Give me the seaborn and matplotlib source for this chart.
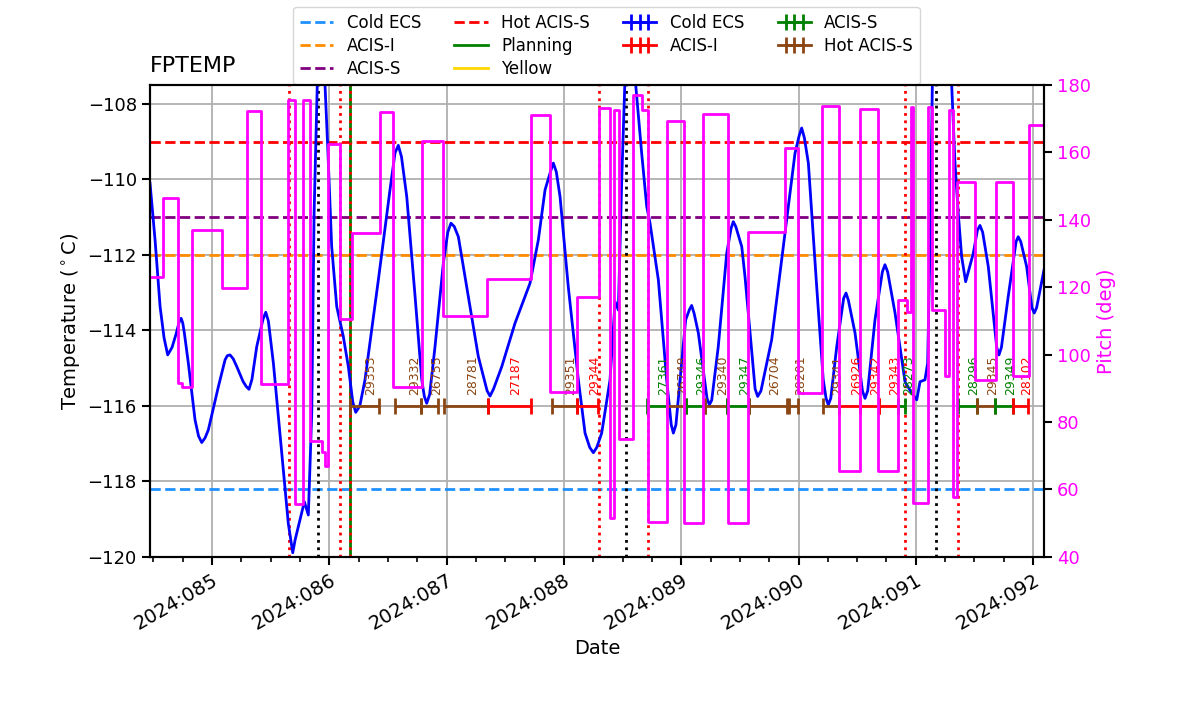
import numpy as np
import pandas as pd
import matplotlib
matplotlib.use("Agg")
import matplotlib.pyplot as plt
import matplotlib.dates as mdates
import seaborn as sns

# ---- data (times are 2024 day-of-year) -------------------------------------
temp_doy = [84.471, 84.514, 84.557, 84.591, 84.622, 84.659, 84.693, 84.722, 84.736, 84.750,
            84.764, 84.798, 84.855, 84.885, 84.912, 84.940, 84.968, 85.054, 85.111, 85.130,
            85.153, 85.180, 85.211, 85.264, 85.290, 85.315, 85.340, 85.381, 85.435, 85.458,
            85.480, 85.523, 85.594, 85.650, 85.688, 85.708, 85.787, 85.821, 85.850, 85.870,
            85.921, 85.963, 85.986, 86.020, 86.063, 86.119, 86.162, 86.200, 86.225, 86.260,
            86.304, 86.418, 86.517, 86.560, 86.588, 86.615, 86.660, 86.731, 86.788, 86.810,
            86.830, 86.855, 86.901, 86.972, 87.010, 87.037, 87.065, 87.100, 87.185, 87.270,
            87.345, 87.370, 87.400, 87.470, 87.583, 87.711, 87.782, 87.839, 87.890, 87.910,
            87.935, 87.967, 88.037, 88.123, 88.180, 88.220, 88.251, 88.280, 88.322, 88.393,
            88.436, 88.464, 88.493, 88.555, 88.612, 88.663, 88.706, 88.734, 88.805, 88.876,
            88.915, 88.933, 88.955, 88.990, 89.038, 89.070, 89.089, 89.110, 89.146, 89.220,
            89.240, 89.260, 89.316, 89.388, 89.425, 89.444, 89.465, 89.516, 89.544, 89.630,
            89.652, 89.680, 89.771, 89.885, 89.970, 90.005, 90.027, 90.050, 90.084, 90.155,
            90.211, 90.235, 90.254, 90.275, 90.326, 90.385, 90.405, 90.425, 90.482, 90.545,
            90.567, 90.590, 90.652, 90.715, 90.737, 90.760, 90.823, 90.908, 90.965, 91.008,
            91.036, 91.078, 91.101, 91.121, 91.141, 91.206, 91.306, 91.334, 91.362, 91.391,
            91.425, 91.490, 91.525, 91.547, 91.570, 91.618, 91.690, 91.709, 91.730, 91.788,
            91.855, 91.873, 91.895, 91.945, 91.990, 92.010, 92.030, 92.093]
temp_val = [-110.10, -111.60, -113.37, -114.20, -114.65, -114.45, -114.10, -113.75, -113.68, -113.80,
            -114.07, -114.87, -116.37, -116.80, -116.97, -116.85, -116.64, -115.49, -114.78, -114.67,
            -114.65, -114.75, -114.96, -115.35, -115.48, -115.56, -115.30, -114.43, -113.70, -113.52,
            -113.75, -114.87, -117.25, -119.11, -119.89, -119.55, -118.54, -118.89, -116.19, -110.90,
            -104.50, -107.50, -109.13, -111.78, -113.37, -114.16, -114.96, -115.90, -116.17, -116.00,
            -115.31, -112.66, -110.28, -109.30, -109.10, -109.40, -110.46, -113.10, -115.31, -115.75,
            -115.93, -115.70, -114.43, -112.22, -111.40, -111.16, -111.25, -111.52, -113.10, -114.69,
            -115.60, -115.74, -115.55, -114.96, -113.81, -112.75, -111.60, -110.28, -109.75, -109.57,
            -109.80, -110.46, -112.84, -115.31, -116.72, -117.10, -117.24, -117.10, -116.72, -115.31,
            -113.24, -113.46, -110.01, -104.00, -107.50, -109.31, -110.72, -111.16, -112.66, -115.31,
            -116.50, -116.72, -116.50, -115.31, -113.72, -113.45, -113.34, -113.55, -114.07, -115.80,
            -115.97, -115.85, -114.43, -111.96, -111.30, -111.12, -111.25, -111.78, -112.58, -115.55,
            -115.75, -115.60, -114.25, -111.42, -109.31, -108.85, -108.64, -108.90, -109.57, -112.84,
            -115.31, -115.80, -115.97, -115.80, -114.43, -113.15, -113.01, -113.20, -114.07, -115.60,
            -115.80, -115.60, -113.72, -112.45, -112.26, -112.45, -113.54, -115.36, -115.66, -115.84,
            -115.36, -115.31, -114.87, -111.78, -107.50, -103.50, -107.50, -109.57, -110.90, -112.05,
            -112.71, -111.96, -111.35, -111.22, -111.40, -112.31, -114.45, -114.65, -114.45, -113.10,
            -111.65, -111.52, -111.65, -112.31, -113.40, -113.54, -113.40, -112.40]

pitch_doy = [84.471, 84.585, 84.708, 84.747, 84.827, 85.088, 85.296, 85.418, 85.650,
             85.708, 85.778, 85.835, 85.938, 85.963, 85.985, 86.087, 86.189, 86.432,
             86.546, 86.788, 86.969, 87.342, 87.717, 87.879, 88.109, 88.299, 88.393,
             88.427, 88.470, 88.589, 88.663, 88.713, 88.876, 89.026, 89.188, 89.396,
             89.572, 89.885, 89.998, 90.203, 90.348, 90.524, 90.680, 90.851, 90.922,
             90.956, 90.979, 91.101, 91.138, 91.245, 91.279, 91.320, 91.355, 91.505,
             91.681, 91.826, 91.965, 92.093]
pitch_val = [122.9, 146.6, 91.7, 90.3, 137.1, 119.9, 172.3, 91.2, 175.5,
             55.7, 175.5, 74.5, 71.0, 67.1, 162.4, 110.6, 136.0, 171.9,
             90.3, 163.4, 111.5, 122.4, 171.2, 88.9, 117.0, 173.1, 51.5,
             172.7, 74.9, 177.0, 172.7, 50.5, 169.4, 50.2, 171.4, 50.0,
             136.3, 161.4, 88.6, 173.9, 65.6, 172.8, 65.6, 116.2, 112.6,
             173.6, 56.1, 173.6, 113.1, 93.7, 172.7, 57.9, 151.3, 92.5,
             151.3, 93.8, 168.1, 168.1]

limit_names = ["Cold ECS", "ACIS-I", "ACIS-S", "Hot ACIS-S", "Planning", "Yellow"]
limit_vals = [-118.2, -112.0, -111.0, -109.0, -84.0, -79.0]
limit_colors = ["dodgerblue", "darkorange", "purple", "red", "green", "gold"]
limit_styles = ["--", "--", "--", "--", "-", "-"]

obs_ids = [29353, 29332, 26755, 28781, 27187, 29351, 29344, 27361, 26748, 29346,
           29340, 29347, 26704, 28201, 29341, 26926, 29342, 29343, 28273, 28296,
           29345, 29349, 28102]
obs_start = [86.172, 86.560, 86.782, 86.978, 87.350, 87.896, 88.114, 88.711, 88.876, 89.038,
             89.203, 89.393, 89.580, 89.921, 90.206, 90.348, 90.524, 90.684, 90.851, 91.362,
             91.519, 91.675, 91.826]
obs_stop = [86.426, 86.782, 86.929, 87.350, 87.717, 88.114, 88.293, 88.876, 89.038, 89.203,
            89.393, 89.580, 89.899, 89.998, 90.348, 90.524, 90.684, 90.851, 90.908, 91.519,
            91.675, 91.826, 91.959]
obs_type = ["Hot ACIS-S", "Hot ACIS-S", "Hot ACIS-S", "Hot ACIS-S", "ACIS-I", "Hot ACIS-S",
            "ACIS-I", "ACIS-S", "Hot ACIS-S", "ACIS-S", "Hot ACIS-S", "ACIS-S", "Hot ACIS-S",
            "Hot ACIS-S", "Hot ACIS-S", "ACIS-I", "ACIS-I", "ACIS-I", "ACIS-S", "ACIS-S",
            "Hot ACIS-S", "ACIS-S", "ACIS-I"]
obs_categories = ["Cold ECS", "ACIS-I", "ACIS-S", "Hot ACIS-S"]
obs_colors = {"Cold ECS": "blue", "ACIS-I": "red", "ACIS-S": "green", "Hot ACIS-S": "saddlebrown"}
obs_level = -116.0

radzone_lines = [85.652, 86.095, 86.172, 88.303, 88.713, 90.912, 91.364]
perigee_lines = [85.901, 88.529, 91.176]
load_start = 86.172


def doy_to_num(doy):
    base = mdates.date2num(pd.Timestamp("2024-01-01"))
    return base + np.asarray(doy, dtype=float) - 1.0


# ---- figure ---------------------------------------------------------------
fig = plt.figure(figsize=(12, 7.14), dpi=100)
ax = fig.add_subplot(111)
fig.subplots_adjust(left=0.125, right=0.87, bottom=0.22, top=0.881)

ax.grid(True, color="#b0b0b0", lw=1.3)
ax.set_axisbelow(True)

handles = []
for name, val, col, ls in zip(limit_names, limit_vals, limit_colors, limit_styles):
    handles.append(ax.axhline(val, color=col, ls=ls, lw=2, label=name))

ax.axvline(doy_to_num(load_start), color="green", lw=2)
for t in radzone_lines:
    ax.axvline(doy_to_num(t), color="red", ls=":", lw=2)
for t in perigee_lines:
    ax.axvline(doy_to_num(t), color="black", ls=":", lw=2)

sns.lineplot(x=doy_to_num(temp_doy), y=temp_val, ax=ax, color="blue", lw=2,
             estimator=None, sort=False)

# observation bars
for oid, t0, t1, kind in zip(obs_ids, obs_start, obs_stop, obs_type):
    c0, c1 = doy_to_num(t0), doy_to_num(t1)
    mid = 0.5 * (c0 + c1)
    ax.errorbar([mid], [obs_level], xerr=[0.5 * (c1 - c0)], fmt="none",
                ecolor=obs_colors[kind], capsize=5.5, elinewidth=2, capthick=2)
    ax.text(mid, obs_level + 0.3, str(oid), rotation=90, color=obs_colors[kind],
            fontsize=9, ha="left", va="bottom")

# legend entries for the observation types
for kind in obs_categories:
    handles.append(ax.errorbar([np.nan], [np.nan], xerr=[np.nan], fmt="-|",
                               color=obs_colors[kind], capsize=5.5, elinewidth=2,
                               capthick=2, lw=2, ms=11, mew=2))
labels = limit_names + obs_categories

ax.set_xlim(doy_to_num(84.471), doy_to_num(92.093))
ax.set_ylim(-120, -107.5)
ax.xaxis.set_major_locator(mdates.DayLocator())
ax.xaxis.set_minor_locator(mdates.HourLocator(byhour=[0, 6, 12, 18]))
ax.xaxis.set_major_formatter(mdates.DateFormatter("%Y:%j"))
ax.set_xlabel("Date", fontsize=14)
ax.set_ylabel("Temperature ($^\\circ$C)", fontsize=14)
ax.set_title("FPTEMP", loc="left", fontsize=16, pad=9)
ax.tick_params(axis="both", which="major", labelsize=13, length=6, width=1.5)
ax.tick_params(axis="x", which="major", labelsize=14, pad=4)
ax.tick_params(axis="x", which="minor", length=3.5, width=1.2)
plt.setp(ax.get_xticklabels(), rotation=30, ha="right", va="top", rotation_mode="anchor")

# pitch on twin axis
ax2 = ax.twinx()
sns.lineplot(x=doy_to_num(pitch_doy), y=pitch_val, ax=ax2, color="magenta", lw=2,
             drawstyle="steps-post", estimator=None, sort=False)
ax2.set_ylim(40, 180)
ax2.set_ylabel("Pitch (deg)", color="magenta", fontsize=14)
ax2.tick_params(axis="y", labelcolor="magenta", labelsize=13, length=6, width=1.5)
ax2.set_xlim(doy_to_num(84.471), doy_to_num(92.093))

for a in (ax, ax2):
    for sp in a.spines.values():
        sp.set_linewidth(1.5)

ax.legend(handles, labels, ncol=4, loc="upper center", fontsize=12,
          labelspacing=0.3, borderaxespad=0,
          bbox_to_anchor=(0.5054, 0.99), bbox_transform=fig.transFigure)

fig.savefig("out.png", dpi=100)
